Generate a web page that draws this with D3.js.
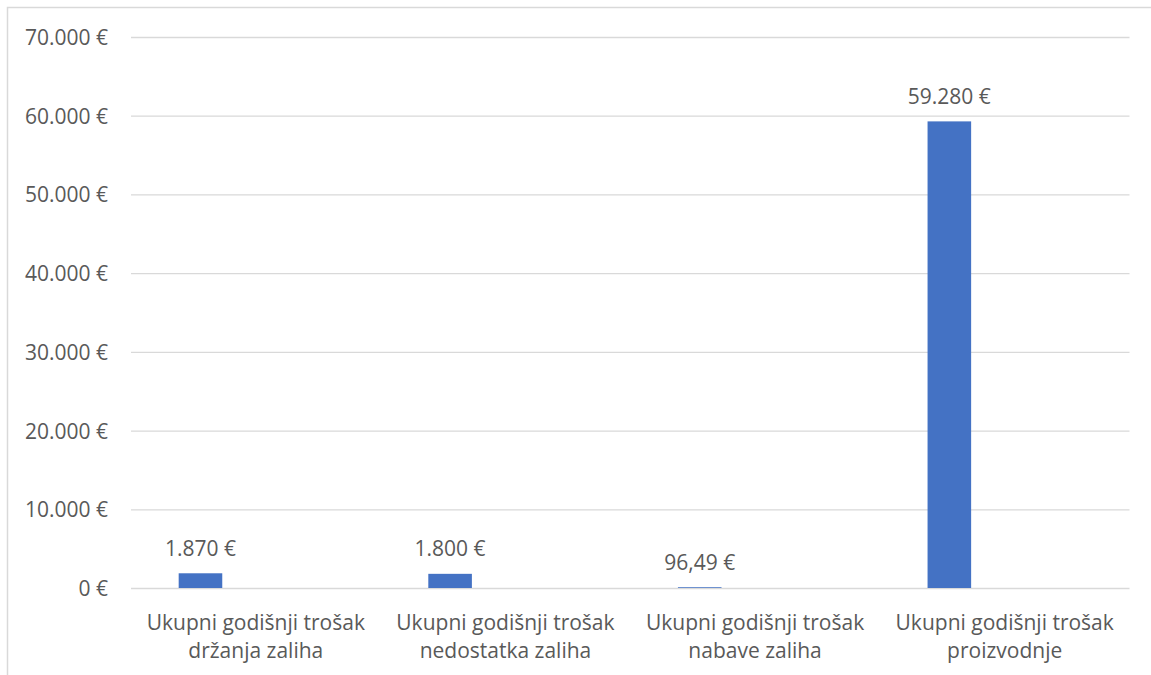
<!DOCTYPE html>
<html>
<head>
<meta charset="utf-8">
<script src="https://cdn.jsdelivr.net/npm/d3@7"></script>
<style>
  html, body { margin: 0; padding: 0; background: #fff; }
  svg { display: block; }
  text { font-family: "Open Sans", "DejaVu Sans", sans-serif; fill: #595959; }
</style>
</head>
<body>
<svg id="chart" width="1151" height="675"></svg>
<script>
// Annual cost components (EUR)
const categories = [
  ["Ukupni godišnji trošak", "držanja zaliha"],
  ["Ukupni godišnji trošak", "nedostatka zaliha"],
  ["Ukupni godišnji trošak", "nabave zaliha"],
  ["Ukupni godišnji trošak", "proizvodnje"]
];
const values = [1870, 1800, 96.49, 59280];
const yTicks = [0, 10000, 20000, 30000, 40000, 50000, 60000, 70000];

const svg = d3.select("#chart");
const W = 1151, H = 675;
const plot = { left: 131, right: 1129.5, top: 37, bottom: 588 };

// Croatian number format: "." thousands, "," decimals
const hr = d3.formatLocale({ decimal: ",", thousands: ".", grouping: [3], currency: ["", " €"] });
const fmtInt = hr.format(",.0f");
const fmtDec = hr.format(",.2f");
const euro = v => (Number.isInteger(v) ? fmtInt(v) : fmtDec(v)) + " €";

const keys = categories.map((c, i) => i);
const x = d3.scaleBand().domain(keys).range([plot.left, plot.right]).padding(0);
const y = d3.scaleLinear().domain([0, 70000]).range([plot.bottom, plot.top]);

// chart frame
svg.append("path")
  .attr("d", `M7.5,${H + 2}V7.5H${W + 2}`)
  .attr("fill", "none")
  .attr("stroke", "#d9d9d9")
  .attr("stroke-width", 1.5);

// horizontal gridlines + value axis labels
const yAxis = d3.axisLeft(y)
  .tickValues(yTicks)
  .tickSize(-(plot.right - plot.left))
  .tickPadding(23)
  .tickFormat(euro);

const gy = svg.append("g").attr("transform", `translate(${plot.left},0)`).call(yAxis);
gy.select(".domain").remove();
gy.selectAll(".tick line").attr("stroke", "#d9d9d9").attr("stroke-width", 1.3);
gy.selectAll(".tick text")
  .attr("font-size", 21)
  .attr("dy", "0.36em")
  .attr("fill", "#595959");

// bars
const bw = x.bandwidth();
const barOff = bw * 0.191, barW = bw * 0.1746;

svg.append("g").selectAll("rect")
  .data(values)
  .join("rect")
  .attr("x", (d, i) => x(i) + barOff)
  .attr("y", d => y(d))
  .attr("width", barW)
  .attr("height", d => y(0) - y(d))
  .attr("fill", "#4472c4");

// value labels
svg.append("g").selectAll("text")
  .data(values)
  .join("text")
  .attr("x", (d, i) => x(i) + barOff + barW / 2)
  .attr("y", d => y(d) - 17.5)
  .attr("text-anchor", "middle")
  .attr("font-size", 21)
  .text(d => euro(d));

// category labels (two lines)
const cat = svg.append("g").selectAll("text")
  .data(categories)
  .join("text")
  .attr("text-anchor", "middle")
  .attr("font-size", 21);
cat.selectAll("tspan")
  .data((d, i) => d.map(line => ({ line, i })))
  .join("tspan")
  .attr("x", d => x(d.i) + bw / 2)
  .attr("y", (d, j) => 630 + j * 27.5)
  .text(d => d.line);
</script>
</body>
</html>
